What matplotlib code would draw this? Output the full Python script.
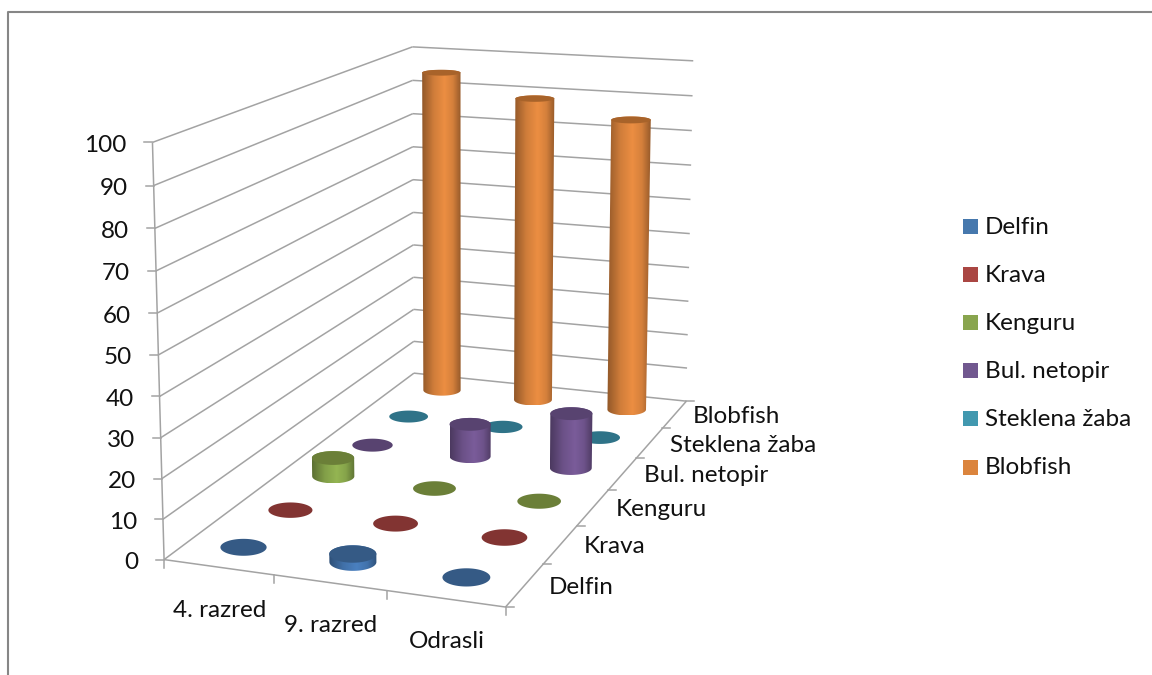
import numpy as np
from matplotlib import pyplot as plt
from matplotlib.patches import Polygon, Rectangle
from matplotlib.colors import LinearSegmentedColormap, to_rgb

groups = ['4. razred', '9. razred', 'Odrasli']
species = ['Delfin', 'Krava', 'Kenguru', 'Bul. netopir', 'Steklena žaba', 'Blobfish']
delfin = [0, 2, 0]
krava = [0, 0, 0]
kenguru = [5, 0, 0]
netopir = [0, 9, 15]
zaba = [0, 0, 0]
blobfish = [95, 89, 84.5]
yticks = [0, 10, 20, 30, 40, 50, 60, 70, 80, 90, 100]

series = [delfin, krava, kenguru, netopir, zaba, blobfish]
legend_colors = ['#4678ad', '#aa4643', '#89a54e', '#71588f', '#4198af', '#db843d']
side_colors = ['#4a80c0', '#b04a47', '#94b552', '#7a5c9a', '#48a4bd', '#ec8e42']
top_colors = ['#355a85', '#823432', '#6b7f38', '#584370', '#2f7388', '#a8632a']
grid_color = '#a3a3a3'
tick_font = 'Lato'
tick_size = 17.5

# chart box corners (category, depth, value) and where they land on the canvas
box_world = [(0, 0, 0), (1, 0, 0), (1, 1, 0), (0, 1, 0), (0, 0, 100), (0, 1, 100), (1, 1, 100)]
box_canvas = [(165, 560), (505, 607), (687, 401), (413, 373), (152, 142), (413, 47), (693, 61)]


def fit_camera(world, canvas):
    rows = []
    for (x, y, z), (u, v) in zip(world, canvas):
        rows.append([x, y, z, 1, 0, 0, 0, 0, -u*x, -u*y, -u*z, -u])
        rows.append([0, 0, 0, 0, x, y, z, 1, -v*x, -v*y, -v*z, -v])
    _, _, vt = np.linalg.svd(np.array(rows, dtype=float))
    return vt[-1].reshape(3, 4)


cam = fit_camera(box_world, box_canvas)


def proj(x, y, z):
    x, y, z = np.broadcast_arrays(x, y, z)
    p = cam @ np.stack([x, y, z, np.ones_like(x)]).astype(float)
    return p[0] / p[2], p[1] / p[2]


def line3(ax, a, b, lw=1.1):
    u, v = proj(np.array([a[0], b[0]]), np.array([a[1], b[1]]), np.array([a[2], b[2]]))
    ax.plot(u, v, c=grid_color, lw=lw, zorder=1, solid_capstyle='butt')


def ellipse(i, j, z, n=80):
    # cylinder caps stay level on the canvas, sized by the projected circle
    t = np.linspace(0, 2*np.pi, n, endpoint=False)
    cx = (i + 0.5) / 3
    cy = (j + 0.5) / 6
    u, v = proj(cx + 0.068*np.cos(t), cy + 0.034*np.sin(t), z)
    mu, mv = (u.max() + u.min()) / 2, (v.max() + v.min()) / 2
    ru, rv = (u.max() - u.min()) / 2, (v.max() - v.min()) / 2
    return np.column_stack([mu + 0.96*ru*np.cos(t), mv + rv*np.sin(t)])


def arc(pts, lower):
    # half of an ellipse running left to right
    pts = np.roll(pts, -np.argmin(pts[:, 0]), axis=0)
    k = np.argmax(pts[:, 0])
    a = pts[:k + 1]
    b = np.vstack([pts[k:], pts[:1]])[::-1]
    if (a[:, 1].mean() > b[:, 1].mean()) == lower:
        return a
    return b


def cylinder(ax, i, j, value, side, top, zorder):
    base = ellipse(i, j, 0)
    head = ellipse(i, j, value)
    if value > 0:
        outline = np.vstack([arc(head, False), arc(base, True)[::-1]])
        cmap = LinearSegmentedColormap.from_list('cyl', [
            (0.0, tuple(c*0.62 for c in to_rgb(side))),
            (0.3, tuple(c*0.88 for c in to_rgb(side))),
            (0.58, side),
            (0.8, tuple(c*0.9 for c in to_rgb(side))),
            (1.0, tuple(c*0.64 for c in to_rgb(side)))])
        x0, x1 = outline[:, 0].min(), outline[:, 0].max()
        y0, y1 = outline[:, 1].min(), outline[:, 1].max()
        im = ax.imshow(np.linspace(0, 1, 64).reshape(1, -1), cmap=cmap, aspect='auto',
                       extent=(x0, x1, y1, y0), zorder=zorder, interpolation='bilinear')
        patch = Polygon(outline, closed=True, fc='none', ec='none', zorder=zorder)
        ax.add_patch(patch)
        im.set_clip_path(patch)
    ax.add_patch(Polygon(head, closed=True, fc=top, ec='none', zorder=zorder + 0.1))


def plot_chart():
    fig = plt.figure(figsize=(11.52, 6.75), dpi=100, facecolor='white')
    ax = fig.add_axes([0, 0, 1, 1])
    ax.set_xlim(0, 1152)
    ax.set_ylim(675, 0)
    ax.axis('off')
    ax.set_autoscale_on(False)

    # outer chart frame, runs off the canvas on the right and bottom
    ax.plot([8, 8, 1160], [680, 11.5, 11.5], c='#868686', lw=1.5, zorder=0)

    # walls
    for val in yticks:
        line3(ax, (0, 0, val), (0, 1, val))
        line3(ax, (0, 1, val), (1, 1, val))
        u, v = proj(0, 0, val)
        ax.plot([u - 8, u], [v, v], c=grid_color, lw=1.1, zorder=1)
        ax.text(u - 26, v + 3, str(val), ha='right', va='center', fontsize=tick_size,
                family=tick_font, color='#111111')
    line3(ax, (0, 0, 0), (0, 0, 100))

    # floor edges with their ticks
    line3(ax, (0, 0, 0), (1, 0, 0))
    line3(ax, (1, 0, 0), (1, 1, 0))
    for i in range(len(groups) + 1):
        u, v = proj(i / len(groups), 0, 0)
        ax.plot([u, u], [v, v + 8], c=grid_color, lw=1.1, zorder=1)
    for j in range(len(species) + 1):
        u, v = proj(1, j / len(species), 0)
        ax.plot([u, u + 8], [v, v], c=grid_color, lw=1.1, zorder=1)

    for i, name in enumerate(groups):
        u, v = proj((i + 0.5) / len(groups), 0, 0)
        ax.text(u + 1, v + 43, name, ha='center', va='center', fontsize=tick_size,
                family=tick_font, color='#111111')
    for j, name in enumerate(species):
        u, v = proj(1, (j + 0.5) / len(species), 0)
        ax.text(u + 24 - 0.25*j*j, v + 2, name, ha='left', va='center', fontsize=tick_size,
                family=tick_font, color='#111111')

    # cylinders, back row first so nearer ones cover them
    for j in range(len(series) - 1, -1, -1):
        for i, value in enumerate(series[j]):
            cylinder(ax, i, j, value, side_colors[j], top_colors[j], 3 + (5 - j))

    # legend
    for k, name in enumerate(species):
        y = 226 + k * 48.2
        ax.add_patch(Rectangle((963, y - 7.5), 15, 15, fc=legend_colors[k], ec='none', zorder=3))
        ax.text(985, y + 1, name, ha='left', va='center', fontsize=tick_size,
                family=tick_font, color='#111111')

    fig.savefig('out.png', dpi=100)


if __name__ == '__main__':
    plot_chart()
